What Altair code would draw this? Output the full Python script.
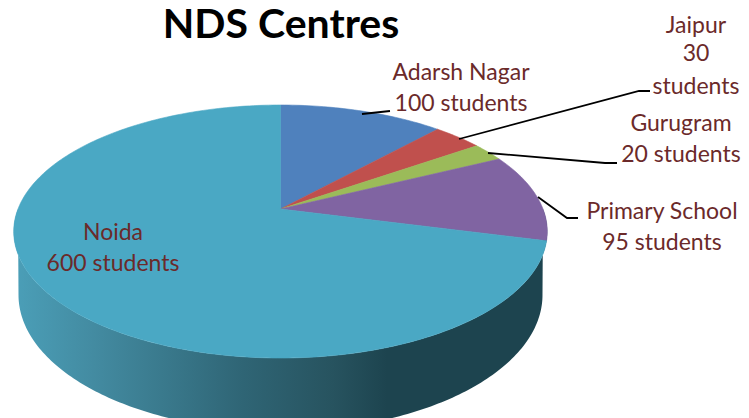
import math
import altair as alt
import pandas as pd

centres = ["Adarsh Nagar", "Jaipur", "Gurugram", "Primary School", "Noida"]
students = [100, 30, 20, 95, 600]
colors = ["#4F81BD", "#C0504D", "#9BBB59", "#8064A2", "#4AA8C4"]

label_text = ["NDS Centres", "Adarsh Nagar", "100 students", "Jaipur", "30", "students", "Gurugram",
              "20 students", "Primary School", "95 students", "Noida", "600 students"]
label_x = [281, 461, 461, 696, 696, 696, 681, 681, 662, 662, 113, 113]
label_y = [26, 73, 104, 26, 54, 87, 124, 155, 212, 243, 233, 264]

leader_group = [0, 0, 1, 1, 1, 2, 2, 2, 3, 3, 3]
leader_x = [362, 390, 459, 639, 650, 488, 605, 617, 538, 567, 578]
leader_y = [114, 111, 139, 91, 91, 153, 163, 163, 197, 218, 218]

CX, CY, K, H, A = 280.5, 209, 262.5, 122.5, 0.178
X_MIN, X_MAX, Y_MIN, Y_MAX = 8, 741, 8, 418


def project(deg):
    t = math.radians(deg)
    u, v = math.sin(t), math.cos(t)
    d = 1 + A * v
    return CX + K * u / d, CY - H * v / d


x_scale = alt.Scale(domain=[X_MIN, X_MAX], nice=False, zero=False)
y_scale = alt.Scale(domain=[Y_MAX, Y_MIN], nice=False, zero=False)
X = alt.X("x:Q", scale=x_scale, axis=None)
Y = alt.Y("y:Q", scale=y_scale, axis=None)


def polygon(points, fill, stroke=None):
    df = pd.DataFrame(points, columns=["x", "y"])
    df["i"] = range(len(df))
    return alt.Chart(df).mark_line(fill=fill, stroke=stroke or "transparent", strokeWidth=0.6, clip=True).encode(
        x=X, y=Y, order="i:Q")


# Side wall
lower = []
for n in range(0, 181):
    deg = 90 + n
    px, py = project(deg)
    lower.append((px, py))
wall = list(lower)
ERX, ECY, ERY = 262, 295, 136
for n in range(0, 181):
    t = math.radians(n)
    wall.append((CX - ERX * math.cos(t) * 1.0, ECY + ERY * math.sin(t)))
wall.append(lower[0])
gradient = alt.Gradient(
    gradient="linear", x1=0, x2=1, y1=0, y2=0,
    stops=[
        alt.GradientStop(offset=0.0, color="#4B9FB8"),
        alt.GradientStop(offset=0.15, color="#438BA1"),
        alt.GradientStop(offset=0.43, color="#2F6575"),
        alt.GradientStop(offset=0.6, color="#27535F"),
        alt.GradientStop(offset=0.7, color="#1D444F"),
        alt.GradientStop(offset=1.0, color="#1D444F"),
    ],
)
layers = [polygon(wall, gradient)]

total = sum(students)
start = 0.0
for value, color in zip(students, colors):
    end = start + value / total * 360
    steps = max(2, int(value / total * 360))
    pts = [(CX, CY)]
    for s in range(steps + 1):
        pts.append(project(start + (end - start) * s / steps))
    pts.append((CX, CY))
    layers.append(polygon(pts, color, color))
    start = end

leaders = pd.DataFrame({"g": leader_group, "x": leader_x, "y": leader_y})
leaders["i"] = range(len(leaders))
layers.append(alt.Chart(leaders).mark_line(color="black", strokeWidth=1.8).encode(
    x=X, y=Y, detail="g:N", order="i:Q"))

labels = pd.DataFrame({"t": label_text, "x": label_x, "y": label_y})
layers.append(alt.Chart(labels[labels.t != "NDS Centres"]).mark_text(
    font="Lato", fontSize=23, color="#6B2A2A", align="center", baseline="middle").encode(
    x=X, y=Y, text="t:N"))
layers.append(alt.Chart(labels[labels.t == "NDS Centres"]).mark_text(
    font="Lato", fontSize=41, fontWeight="bold", color="black", align="center", baseline="middle").encode(
    x=X, y=Y, text="t:N"))

chart = alt.layer(*layers).properties(
    width=X_MAX - X_MIN, height=Y_MAX - Y_MIN, padding=0,
    autosize=alt.AutoSizeParams(type="none"),
).configure_view(stroke=None)
chart.save("out.html", embed_options={"renderer": "svg", "actions": False})
